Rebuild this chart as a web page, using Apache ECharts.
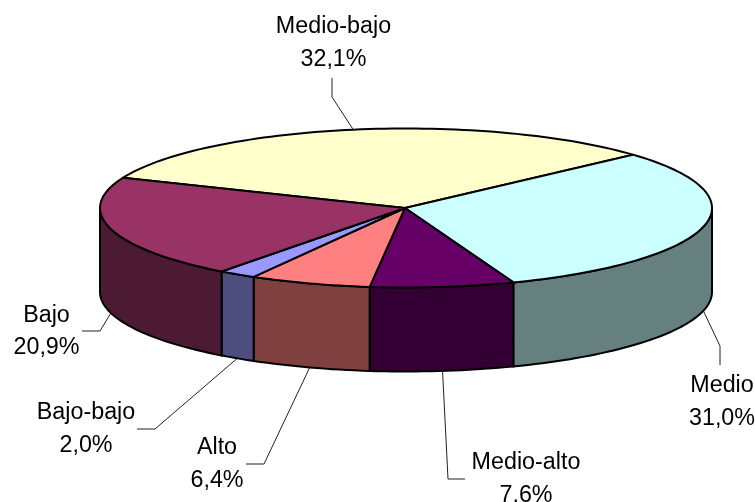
<!DOCTYPE html>
<html>
<head>
<meta charset="utf-8">
<style>html,body{margin:0;padding:0;background:#fff}#c{width:755px;height:502px}</style>
<script src="https://cdn.jsdelivr.net/npm/echarts@6/dist/echarts.min.js"></script>
</head>
<body>
<div id="c"></div>
<script>
var categories = ['Medio-bajo', 'Medio', 'Medio-alto', 'Alto', 'Bajo-bajo', 'Bajo'];
var values = [32.1, 31.0, 7.6, 6.4, 2.0, 20.9];

var topColors = ['#FFFFCC', '#CCFFFF', '#660066', '#FF8080', '#9999FF', '#993366'];
var sideColors = ['#808066', '#668080', '#330033', '#804040', '#4D4D80', '#4D1A33'];

// Pie geometry
var pie = { cx: 406, cy: 208, rx: 306, ry: 79.5, depth: 84, startAngle: 202.3 };
// Label centres and leader elbows
var labelCentres = [[333.5, 43], [722, 402], [526, 479], [217, 464], [86, 429], [46.5, 331.5]];
var leaderStarts = [[332, 78], [720, 365], [465, 479], [246, 464], [137, 429], [82, 331]];
var leaderElbows = [[332, 97], [720, 346], [448, 479], [264, 464], [155, 429], [100, 331]];

var total = values.reduce(function (a, b) { return a + b; }, 0);
var RAD = Math.PI / 180;

function ept(deg, dz) {
  return [pie.cx + pie.rx * Math.cos(deg * RAD), pie.cy + pie.ry * Math.sin(deg * RAD) + (dz || 0)];
}
function arc(a0, a1, dz) {
  var pts = [], n = Math.max(1, Math.ceil(Math.abs(a1 - a0) / 1.5));
  for (var i = 0; i <= n; i++) pts.push(ept(a0 + (a1 - a0) * i / n, dz));
  return pts;
}
function startOf(i) {
  var s = 0;
  for (var k = 0; k < i; k++) s += values[k];
  return pie.startAngle + s / total * 360;
}
function frontSpan(a0, a1) {
  // visible part of the wall: where sin(angle) > 0, i.e. [0,180] modulo 360
  var spans = [];
  [0, 360].forEach(function (off) {
    var l = Math.max(a0, off), h = Math.min(a1, off + 180);
    if (h > l) spans.push([l, h]);
  });
  return spans;
}

function renderSlice(params, api) {
  var i = params.dataIndex;
  var v = api.value(0);
  var a0 = startOf(i), a1 = a0 + v / total * 360;
  var children = [];
  var line = { stroke: '#000', lineWidth: 2, lineJoin: 'round' };

  frontSpan(a0, a1).forEach(function (sp) {
    var pts = arc(sp[0], sp[1], 0).concat(arc(sp[1], sp[0], pie.depth));
    children.push({
      type: 'polygon', z2: 1,
      shape: { points: pts },
      style: Object.assign({ fill: sideColors[i] }, line)
    });
  });

  children.push({
    type: 'polygon', z2: 2,
    shape: { points: [[pie.cx - 1, pie.cy]].concat(arc(a0, a1, 0)) },
    style: Object.assign({ fill: topColors[i] }, line)
  });

  // Leader line, ending on the rim at the middle of the slice
  var mid = (a0 + a1) / 2;
  var midNorm = ((mid % 360) + 360) % 360;
  var end = ept(mid, midNorm < 180 ? pie.depth : 0);
  children.push({
    type: 'polyline', z2: 3,
    shape: { points: [leaderStarts[i], leaderElbows[i], end] },
    style: { fill: null, stroke: '#222', lineWidth: 1 }
  });

  children.push({
    type: 'text', z2: 4,
    x: labelCentres[i][0], y: labelCentres[i][1],
    style: {
      text: categories[i] + '\n' + v.toFixed(1).replace('.', ',') + '%',
      fill: '#000',
      font: '23.3px "Liberation Sans", Arial, sans-serif',
      lineHeight: 32.5,
      align: 'center',
      verticalAlign: 'middle'
    }
  });

  return { type: 'group', children: children };
}

var chart = echarts.init(document.getElementById('c'), null, { renderer: 'canvas' });
chart.setOption({
  animation: false,
  backgroundColor: '#fff',
  series: [{
    type: 'custom',
    coordinateSystem: 'none',
    clip: false,
    renderItem: renderSlice,
    data: values.map(function (v, i) { return { name: categories[i], value: [v] }; })
  }]
});
</script>
</body>
</html>
